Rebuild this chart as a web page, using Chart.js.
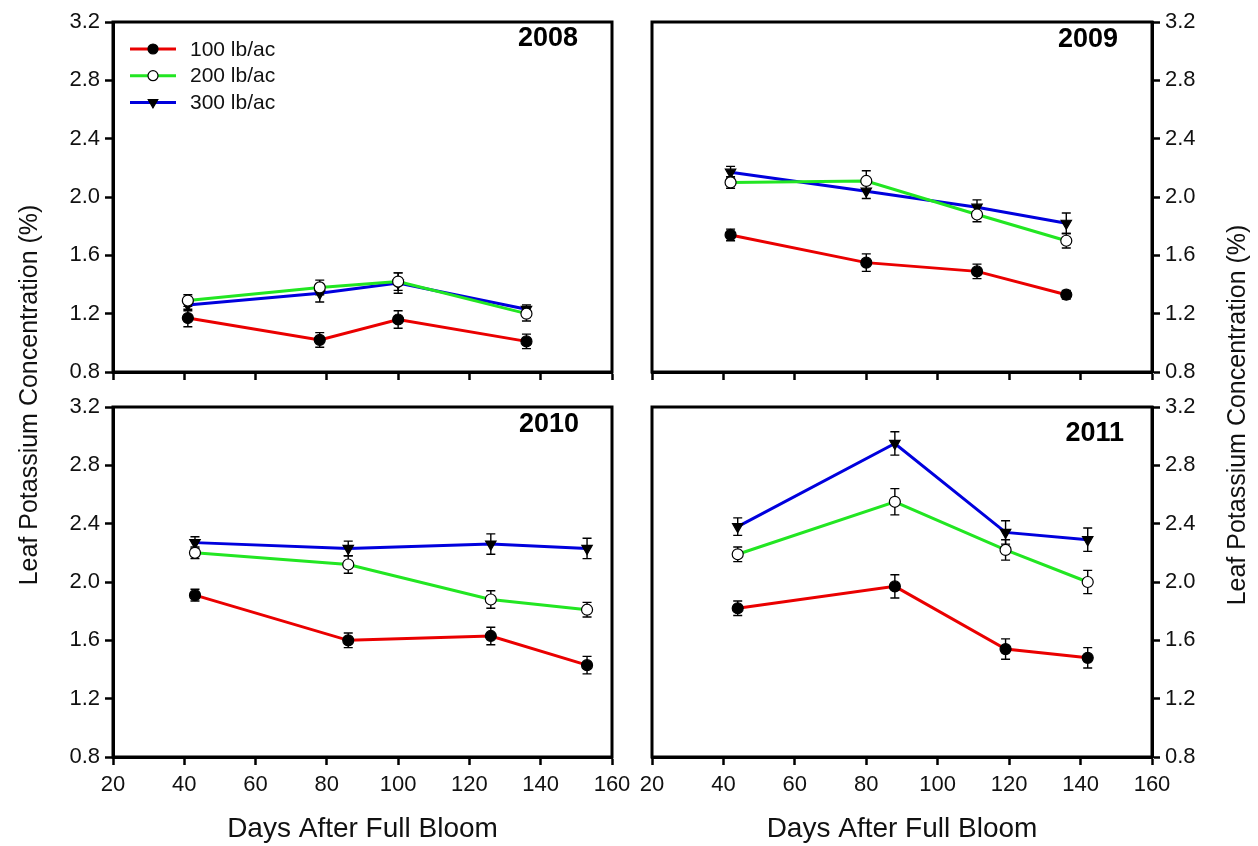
<!DOCTYPE html>
<html>
<head>
<meta charset="utf-8">
<title>Leaf Potassium Concentration</title>
<script src="https://cdn.jsdelivr.net/npm/chart.js@4.4.1/dist/chart.umd.min.js"></script>
<style>
  html, body { margin: 0; padding: 0; background: #ffffff; }
  #figure { position: relative; width: 1258px; height: 846px; overflow: hidden; }
  #figure canvas { position: absolute; left: 0; top: 0; }
</style>
</head>
<body>
<div id="figure">
  <canvas id="p2008" width="1258" height="846"></canvas>
  <canvas id="p2009" width="1258" height="846"></canvas>
  <canvas id="p2010" width="1258" height="846"></canvas>
  <canvas id="p2011" width="1258" height="846"></canvas>
</div>
<script>
// ---- axis ticks and labels ----
const xTicks = [20, 40, 60, 80, 100, 120, 140, 160];
const yTicks = [0.8, 1.2, 1.6, 2.0, 2.4, 2.8, 3.2];
const seriesNames = ['100 lb/ac', '200 lb/ac', '300 lb/ac'];
const xTitle = 'Days After Full Bloom';
const yTitle = 'Leaf Potassium Concentration (%)';

// ---- 2008 ----
const days2008 = [41, 78, 100, 136];
const k100_2008 = [1.17, 1.02, 1.16, 1.01];
const k200_2008 = [1.29, 1.38, 1.42, 1.20];
const k300_2008 = [1.26, 1.34, 1.41, 1.23];
const se100_2008 = [0.06, 0.05, 0.06, 0.05];
const se200_2008 = [0.04, 0.05, 0.06, 0.05];
const se300_2008 = [0.04, 0.06, 0.07, 0.03];

// ---- 2009 ----
const days2009 = [42, 80, 111, 136];
const k100_2009 = [1.74, 1.55, 1.49, 1.33];
const k200_2009 = [2.10, 2.11, 1.88, 1.70];
const k300_2009 = [2.17, 2.04, 1.93, 1.82];
const se100_2009 = [0.04, 0.06, 0.05, 0.03];
const se200_2009 = [0.04, 0.07, 0.05, 0.05];
const se300_2009 = [0.04, 0.05, 0.05, 0.07];

// ---- 2010 ----
const days2010 = [43, 86, 126, 153];
const k100_2010 = [1.91, 1.60, 1.63, 1.43];
const k200_2010 = [2.20, 2.12, 1.88, 1.81];
const k300_2010 = [2.27, 2.23, 2.26, 2.23];
const se100_2010 = [0.04, 0.05, 0.06, 0.06];
const se200_2010 = [0.04, 0.06, 0.06, 0.05];
const se300_2010 = [0.04, 0.05, 0.07, 0.07];

// ---- 2011 ----
const days2011 = [44, 88, 119, 142];
const k100_2011 = [1.82, 1.97, 1.54, 1.48];
const k200_2011 = [2.19, 2.55, 2.22, 2.00];
const k300_2011 = [2.38, 2.95, 2.34, 2.29];
const se100_2011 = [0.05, 0.08, 0.07, 0.07];
const se200_2011 = [0.05, 0.09, 0.07, 0.08];
const se300_2011 = [0.06, 0.08, 0.08, 0.08];

// ---- styles ----
const FONT = "'Liberation Sans', Arial, Helvetica, sans-serif";
const lineColors = ['#ea0000', '#22e622', '#0000dd'];
const markerFill = ['#000000', '#ffffff', '#000000'];
const markerStyle = ['circle', 'circle', 'triangle'];
const markerRotation = [0, 0, 180];
const markerRadius = [5.5, 5.5, 6];

function toPoints(days, vals) {
  return days.map((d, i) => ({ x: d, y: vals[i] }));
}

function makeDatasets(days, series, errors) {
  return series.map((vals, s) => ({
    label: seriesNames[s],
    data: toPoints(days, vals),
    errors: errors[s],
    borderColor: lineColors[s],
    borderWidth: 3,
    pointStyle: markerStyle[s],
    pointRotation: markerRotation[s],
    pointRadius: markerRadius[s],
    pointBackgroundColor: markerFill[s],
    pointBorderColor: '#000000',
    pointBorderWidth: 1.2,
    tension: 0,
    fill: false,
    clip: false
  }));
}

// vertical error bars with caps, drawn beneath the lines
const errorBars = {
  id: 'errorBars',
  beforeDatasetsDraw(chart) {
    const ctx = chart.ctx, xs = chart.scales.x, ys = chart.scales.y;
    ctx.save();
    ctx.strokeStyle = '#000000';
    ctx.lineWidth = 1.4;
    chart.data.datasets.forEach(ds => {
      ds.data.forEach((p, i) => {
        const e = ds.errors[i];
        const x = xs.getPixelForValue(p.x);
        const yTop = ys.getPixelForValue(p.y + e);
        const yBot = ys.getPixelForValue(p.y - e);
        ctx.beginPath();
        ctx.moveTo(x, yTop); ctx.lineTo(x, yBot);
        ctx.moveTo(x - 4.5, yTop); ctx.lineTo(x + 4.5, yTop);
        ctx.moveTo(x - 4.5, yBot); ctx.lineTo(x + 4.5, yBot);
        ctx.stroke();
      });
    });
    ctx.restore();
  }
};

// closed frame around each panel plus the year tag
const panelFrame = {
  id: 'panelFrame',
  afterDraw(chart, args, opts) {
    const ctx = chart.ctx, a = chart.chartArea;
    ctx.save();
    ctx.strokeStyle = '#000000';
    ctx.lineWidth = 3;
    ctx.strokeRect(a.left, a.top, a.right - a.left, a.bottom - a.top);
    if (opts.tag) {
      ctx.fillStyle = '#000000';
      ctx.font = 'bold 27px ' + FONT;
      ctx.textAlign = 'right';
      ctx.textBaseline = 'middle';
      ctx.fillText(opts.tag, a.right - opts.dx, a.top + opts.dy);
    }
    ctx.restore();
  }
};

// line + marker legend, drawn from the datasets' own styles
const seriesKey = {
  id: 'seriesKey',
  afterDraw(chart, args, opts) {
    if (!opts.show) return;
    const ctx = chart.ctx, a = chart.chartArea;
    ctx.save();
    chart.data.datasets.forEach((ds, i) => {
      const y = a.top + 27 + i * 26.7;
      const x0 = a.left + 17, x1 = a.left + 63, xm = a.left + 40;
      ctx.strokeStyle = ds.borderColor;
      ctx.lineWidth = 3;
      ctx.beginPath(); ctx.moveTo(x0, y); ctx.lineTo(x1, y); ctx.stroke();
      ctx.fillStyle = ds.pointBackgroundColor;
      ctx.strokeStyle = ds.pointBorderColor;
      ctx.lineWidth = ds.pointBorderWidth;
      Chart.helpers.drawPoint(ctx, {
        pointStyle: ds.pointStyle, rotation: ds.pointRotation,
        radius: ds.pointRadius - 0.5, borderWidth: ds.pointBorderWidth
      }, xm, y);
      ctx.fillStyle = '#111111';
      ctx.font = '21px ' + FONT;
      ctx.textAlign = 'left';
      ctx.textBaseline = 'middle';
      ctx.fillText(ds.label, a.left + 77, y + 1);
    });
    ctx.restore();
  }
};

// rotated shared y title
const sideTitle = {
  id: 'sideTitle',
  afterDraw(chart, args, opts) {
    if (!opts.text) return;
    const ctx = chart.ctx;
    ctx.save();
    ctx.translate(opts.x, opts.y);
    ctx.rotate(-Math.PI / 2);
    ctx.fillStyle = '#111111';
    ctx.font = '25px ' + FONT;
    ctx.textAlign = 'center';
    ctx.textBaseline = 'middle';
    ctx.fillText(opts.text, 0, 0);
    ctx.restore();
  }
};

function makePanel(id, cfg) {
  const W = 1258, H = 846;
  const yOnRight = cfg.yPos === 'right';
  const yScaleW = 60, xScaleH = cfg.showX ? 89 : 20;
  const padding = {
    top: cfg.top,
    bottom: H - cfg.bottom - xScaleH,
    left: yOnRight ? cfg.left : cfg.left - yScaleW,
    right: yOnRight ? W - cfg.right - yScaleW : W - cfg.right
  };
  return new Chart(document.getElementById(id), {
    type: 'line',
    data: { datasets: makeDatasets(cfg.days, cfg.series, cfg.errors) },
    options: {
      responsive: false,
      animation: false,
      devicePixelRatio: 1,
      layout: { padding },
      plugins: {
        legend: { display: false },
        tooltip: { enabled: false },
        panelFrame: { tag: cfg.tag, dx: cfg.tagDx, dy: cfg.tagDy },
        seriesKey: { show: !!cfg.key },
        sideTitle: cfg.sideTitle || {}
      },
      scales: {
        x: {
          type: 'linear',
          position: 'bottom',
          min: xTicks[0],
          max: xTicks[xTicks.length - 1],
          afterBuildTicks: s => { s.ticks = xTicks.map(v => ({ value: v })); },
          afterFit: s => { s.height = xScaleH; },
          grid: { drawOnChartArea: false, drawTicks: true, tickLength: 8, tickWidth: 2.5, tickColor: '#000000' },
          border: { display: true, color: '#000000', width: 3 },
          ticks: {
            display: !!cfg.showX,
            color: '#111111',
            font: { family: FONT, size: 22 },
            padding: 7,
            maxRotation: 0,
            autoSkip: false
          },
          title: {
            display: !!cfg.showX,
            text: xTitle,
            color: '#111111',
            font: { family: FONT, size: 28 },
            padding: { top: 4, bottom: 0 }
          }
        },
        y: {
          type: 'linear',
          position: cfg.yPos,
          min: yTicks[0],
          max: yTicks[yTicks.length - 1],
          afterBuildTicks: s => { s.ticks = yTicks.map(v => ({ value: v })); },
          afterFit: s => { s.width = yScaleW; },
          grid: { drawOnChartArea: false, drawTicks: true, tickLength: 8, tickWidth: 2.5, tickColor: '#000000' },
          border: { display: true, color: '#000000', width: 3 },
          ticks: {
            color: '#111111',
            font: { family: FONT, size: 22 },
            padding: 5,
            autoSkip: false,
            callback: v => Number(v).toFixed(1)
          }
        }
      }
    },
    plugins: [errorBars, panelFrame, seriesKey, sideTitle]
  });
}

makePanel('p2008', {
  days: days2008,
  series: [k100_2008, k200_2008, k300_2008],
  errors: [se100_2008, se200_2008, se300_2008],
  left: 113, right: 612, top: 22, bottom: 372,
  yPos: 'left', showX: false, key: true,
  tag: '2008', tagDx: 34, tagDy: 17,
  sideTitle: { text: yTitle, x: 30, y: 395 }
});

makePanel('p2009', {
  days: days2009,
  series: [k100_2009, k200_2009, k300_2009],
  errors: [se100_2009, se200_2009, se300_2009],
  left: 652, right: 1152, top: 22, bottom: 372,
  yPos: 'right', showX: false,
  tag: '2009', tagDx: 34, tagDy: 18,
  sideTitle: { text: yTitle, x: 1238, y: 415 }
});

makePanel('p2010', {
  days: days2010,
  series: [k100_2010, k200_2010, k300_2010],
  errors: [se100_2010, se200_2010, se300_2010],
  left: 113, right: 612, top: 407, bottom: 757,
  yPos: 'left', showX: true,
  tag: '2010', tagDx: 33, tagDy: 18
});

makePanel('p2011', {
  days: days2011,
  series: [k100_2011, k200_2011, k300_2011],
  errors: [se100_2011, se200_2011, se300_2011],
  left: 652, right: 1152, top: 407, bottom: 757,
  yPos: 'right', showX: true,
  tag: '2011', tagDx: 28, tagDy: 27
});
</script>
</body>
</html>
